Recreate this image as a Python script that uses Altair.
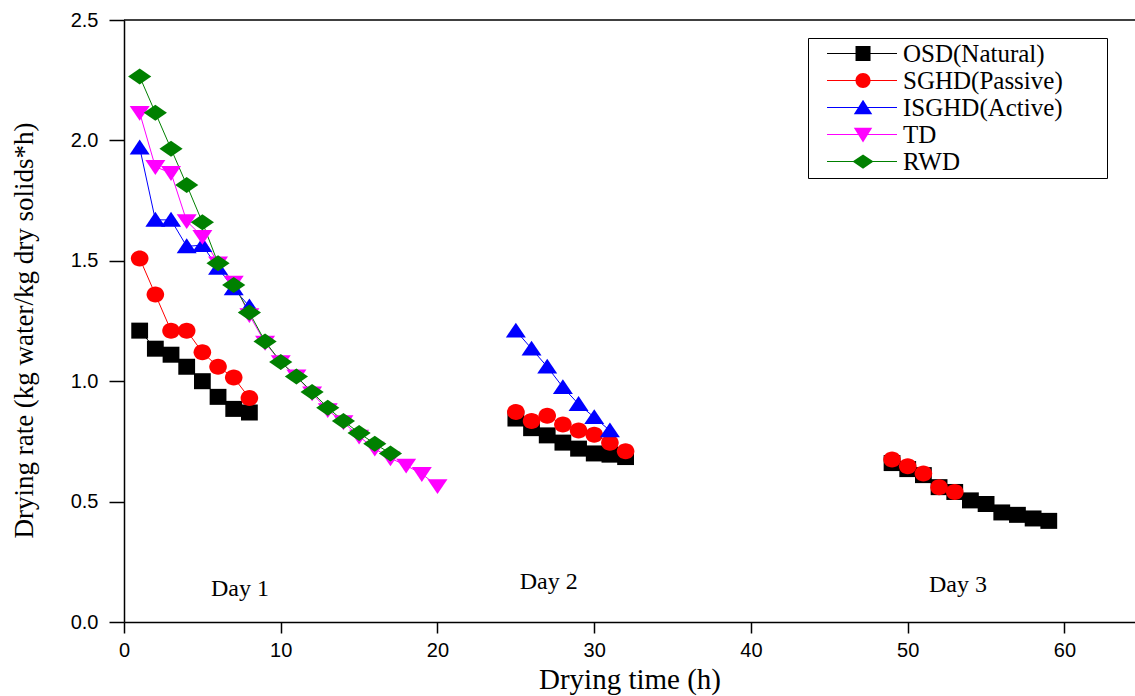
import altair as alt
import pandas as pd

# ---- data ----
series_names = ["OSD(Natural)", "SGHD(Passive)", "ISGHD(Active)", "TD", "RWD"]
series_colors = ["#000000", "#ff0000", "#0000ff", "#ff00ff", "#008000"]

osd_day1_h = [1, 2, 3, 4, 5, 6, 7, 8]
osd_day1 = [1.21, 1.135, 1.11, 1.06, 1.00, 0.935, 0.885, 0.87]
osd_day2_h = [25, 26, 27, 28, 29, 30, 31, 32]
osd_day2 = [0.845, 0.805, 0.775, 0.745, 0.72, 0.70, 0.695, 0.685]
osd_day3_h = [49, 50, 51, 52, 53, 54, 55, 56, 57, 58, 59]
osd_day3 = [0.66, 0.635, 0.61, 0.56, 0.54, 0.505, 0.49, 0.455, 0.445, 0.43, 0.42]

sghd_day1_h = [1, 2, 3, 4, 5, 6, 7, 8]
sghd_day1 = [1.51, 1.36, 1.21, 1.21, 1.12, 1.06, 1.015, 0.93]
sghd_day2_h = [25, 26, 27, 28, 29, 30, 31, 32]
sghd_day2 = [0.872, 0.835, 0.857, 0.82, 0.795, 0.778, 0.744, 0.709]
sghd_day3_h = [49, 50, 51, 52, 53]
sghd_day3 = [0.675, 0.647, 0.617, 0.56, 0.54]

isghd_day1_h = [1, 2, 3, 4, 5, 6, 7, 8]
isghd_day1 = [1.97, 1.67, 1.67, 1.56, 1.565, 1.47, 1.385, 1.31]
isghd_day2_h = [25, 26, 27, 28, 29, 30, 31]
isghd_day2 = [1.21, 1.135, 1.06, 0.975, 0.905, 0.85, 0.795]

td_day1_h = list(range(1, 21))
td_day1 = [2.115, 1.89, 1.865, 1.665, 1.60, 1.49, 1.41, 1.275, 1.16, 1.08,
           1.02, 0.95, 0.88, 0.83, 0.77, 0.72, 0.68, 0.65, 0.615, 0.565]

rwd_day1_h = list(range(1, 18))
rwd_day1 = [2.265, 2.115, 1.965, 1.815, 1.66, 1.49, 1.40, 1.285, 1.165, 1.08,
            1.02, 0.955, 0.89, 0.835, 0.785, 0.74, 0.70]

day_label_text = ["Day 1", "Day 2", "Day 3"]
day_label_x = [7.4, 27.1, 53.2]
day_label_y = [0.137, 0.166, 0.154]

x_ticks = [0, 10, 20, 30, 40, 50, 60]
y_ticks = [0.0, 0.5, 1.0, 1.5, 2.0, 2.5]

# ---- table ----
rows = []
def add(name, day, hs, vs):
    for h, v in zip(hs, vs):
        rows.append({"series": name, "day": day, "time": h, "rate": v})

add(series_names[0], 1, osd_day1_h, osd_day1)
add(series_names[0], 2, osd_day2_h, osd_day2)
add(series_names[0], 3, osd_day3_h, osd_day3)
add(series_names[1], 1, sghd_day1_h, sghd_day1)
add(series_names[1], 2, sghd_day2_h, sghd_day2)
add(series_names[1], 3, sghd_day3_h, sghd_day3)
add(series_names[2], 1, isghd_day1_h, isghd_day1)
add(series_names[2], 2, isghd_day2_h, isghd_day2)
add(series_names[3], 1, td_day1_h, td_day1)
add(series_names[4], 1, rwd_day1_h, rwd_day1)
df = pd.DataFrame(rows)

labels_df = pd.DataFrame({"text": day_label_text, "time": day_label_x, "rate": day_label_y})

# ---- marker shapes (unit paths) ----
marker_paths = [
    "M-1.05,-1H1.05V1H-1.05Z",
    "M-1.1,0A1.1,1,0,1,1,1.1,0A1.1,1,0,1,1,-1.1,0Z",
    "M0,-1L1.25,0.85H-1.25Z",
    "M-1.25,-0.85H1.25L0,1Z",
    "M-1.45,0L0,-1L1.45,0L0,1Z",
]
leg_line = "M0.47,-0.08H9.8V0.08H0.47Z"
leg_ext = "M37.4,0"
legend_paths = [
    leg_line + "M4.27,-1H6.27V1H4.27Z" + leg_ext,
    leg_line + "M4.27,0A1,1,0,1,1,6.27,0A1,1,0,1,1,4.27,0Z" + leg_ext,
    leg_line + "M5.27,-1.05L6.5,0.9H4.04Z" + leg_ext,
    leg_line + "M4.04,-0.9H6.5L5.27,1.05Z" + leg_ext,
    leg_line + "M3.87,0L5.27,-0.95L6.67,0L5.27,0.95Z" + leg_ext,
]

W, H = 1011, 602
SERIF = "Liberation Serif"
SANS = "Liberation Sans"

x_enc = alt.X("time:Q",
              scale=alt.Scale(domain=[0, 64.5], nice=False, zero=False),
              axis=alt.Axis(values=x_ticks, grid=False, tickSize=11, tickWidth=1.5,
                            tickColor="black", domainColor="black", domainWidth=1.5,
                            labelFont=SANS, labelFontSize=20, labelColor="black",
                            labelPadding=7, labelFlush=False,
                            title="Drying time (h)", titleFont=SERIF, titleFontSize=29,
                            titleFontWeight="normal", titleColor="black",
                            titleY=43, titleBaseline="top"))
y_enc = alt.Y("rate:Q",
              scale=alt.Scale(domain=[0, 2.5], nice=False),
              axis=alt.Axis(values=y_ticks, format=".1f", grid=False, tickSize=15,
                            tickWidth=1.5, tickColor="black", domainColor="black",
                            domainWidth=1.5, labelFont=SANS, labelFontSize=20,
                            labelColor="black", labelPadding=11, labelFlush=False,
                            title="Drying rate (kg water/kg dry solids*h)",
                            titleFont=SERIF, titleFontSize=27, titleFontWeight="normal",
                            titleColor="black", titleX=-86, titleY=310,
                            titleAlign="center", titleBaseline="bottom", titleAngle=270))

color_scale = alt.Scale(domain=series_names, range=series_colors)

top_rule = alt.Chart(alt.Data(values=[{}])).mark_rule(color="black", strokeWidth=1.5).encode(
    x=alt.value(0), x2=alt.value(W), y=alt.value(0))

lines = alt.Chart(df).mark_line(strokeWidth=1).encode(
    x=x_enc, y=y_enc,
    color=alt.Color("series:N", scale=color_scale, legend=None),
    detail="day:N")

points = alt.Chart(df).mark_point(filled=True, size=256, opacity=1).encode(
    x=x_enc, y=y_enc,
    color=alt.Color("series:N", scale=color_scale, legend=None),
    shape=alt.Shape("series:N", scale=alt.Scale(domain=series_names, range=marker_paths),
                    legend=None))

legend_layer = alt.Chart(df).mark_point(filled=True, size=0, opacity=1).encode(
    x=x_enc, y=y_enc,
    color=alt.Color("series:N", scale=color_scale, legend=alt.Legend(title=None)),
    shape=alt.Shape("series:N", scale=alt.Scale(domain=series_names, range=legend_paths),
                    legend=alt.Legend(title=None)))

day_text = alt.Chart(labels_df).mark_text(font=SERIF, fontSize=24, color="black",
                                          align="center", baseline="middle").encode(
    x=x_enc, y=y_enc, text="text:N")

chart = alt.layer(top_rule, lines, points, legend_layer, day_text).resolve_scale(
    color="independent", shape="independent"
).properties(
    width=W, height=H,
    padding={"left": 124, "top": 20, "right": 0, "bottom": 74},
    autosize=alt.AutoSizeParams(type="none"),
).configure_view(stroke=None).configure_axis(
    titleFont=SERIF, titleFontWeight="normal"
).configure_legend(
    orient="none", legendX=684, legendY=18,
    padding=3, rowPadding=1, symbolSize=225, symbolStrokeWidth=0,
    labelFont=SERIF, labelFontSize=25, labelColor="black", labelOffset=67,
    labelLimit=400, strokeColor="black", fillColor="white", symbolOpacity=1,
)

chart.save("out.html", embed_options={"renderer": "svg", "actions": False})
